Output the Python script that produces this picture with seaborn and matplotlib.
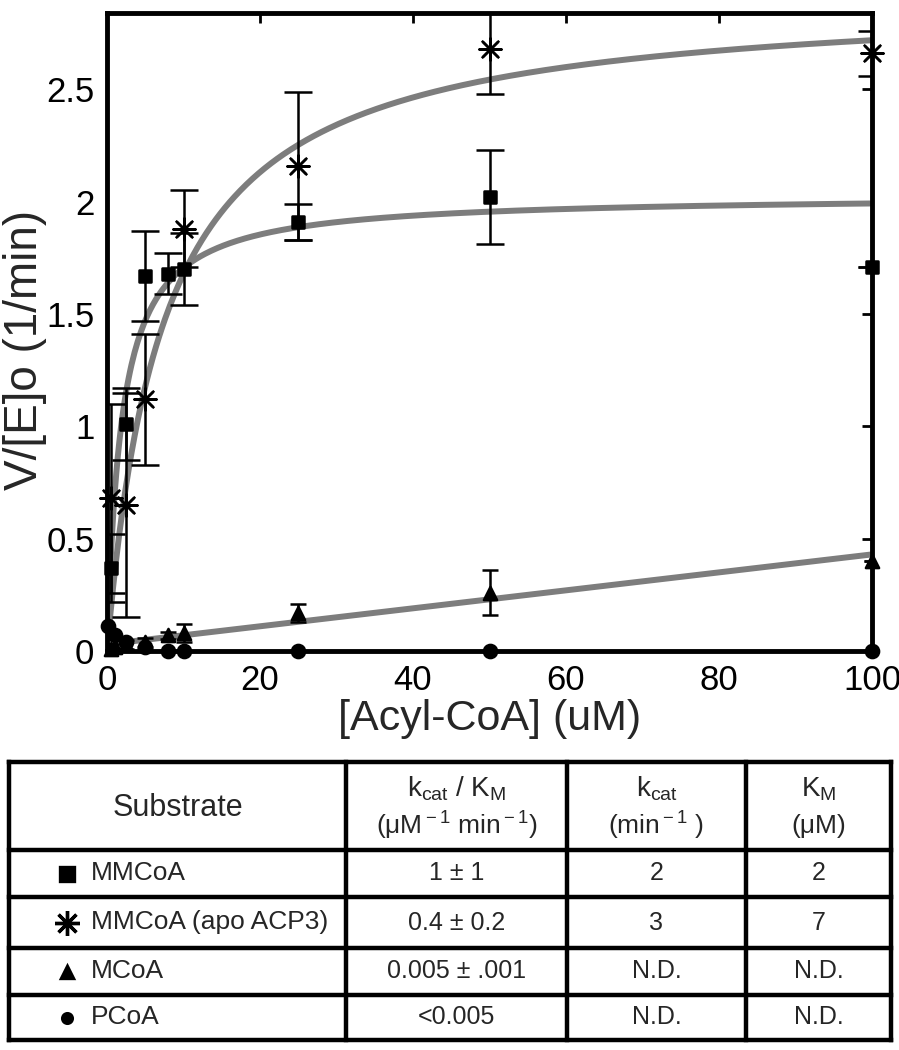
import numpy as np
import pandas as pd
import matplotlib
matplotlib.use("Agg")
import matplotlib.pyplot as plt
import seaborn as sns

# measured points (V/[E]o in 1/min vs substrate in uM)
mm_x = [0.5, 2.5, 5, 8, 10, 25, 50, 100]
mm_y = [0.37, 1.01, 1.67, 1.68, 1.70, 1.91, 2.02, 1.71]
mm_err = [0.15, 0.16, 0.20, 0.09, 0.16, 0.08, 0.21, 0.0]

apo_x = [0.5, 2.5, 5, 10, 25, 50, 100]
apo_y = [0.68, 0.65, 1.12, 1.88, 2.16, 2.68, 2.66]
apo_err = [0.42, 0.50, 0.29, 0.17, 0.33, 0.20, 0.10]

mcoa_x = [0.5, 1, 2.5, 5, 8, 10, 25, 50, 100]
mcoa_y = [0.01, 0.02, 0.03, 0.04, 0.07, 0.08, 0.17, 0.26, 0.40]
mcoa_err = [0.01, 0.01, 0.02, 0.02, 0.015, 0.04, 0.04, 0.10, 0.0]

pcoa_x = [0.1, 1, 2.5, 5, 8, 10, 25, 50, 100]
pcoa_y = [0.11, 0.07, 0.04, 0.02, 0.0, 0.0, 0.0, 0.0, 0.0]

# fit parameters for the gray curves
mm_vmax, mm_km = 2.03, 1.9
apo_vmax, apo_km = 2.92, 7.4
mcoa_slope, mcoa_icpt = 0.004, 0.03

x_ticks = [0, 20, 40, 60, 80, 100]
x_ticklabels = ["0", "20", "40", "60", "80", "100"]
y_ticks = [0, 0.5, 1, 1.5, 2, 2.5]
y_ticklabels = ["0", "0.5", "1", "1.5", "2", "2.5"]

# table contents
substrates = ["MMCoA", "MMCoA (apo ACP3)", "MCoA", "PCoA"]
table_markers = ["s", (8, 2, 0), "^", "o"]
kcat_km_vals = ["1 ± 1", "0.4 ± 0.2", "0.005 ± .001", "<0.005"]
kcat_vals = ["2", "3", "N.D.", "N.D."]
km_vals = ["2", "7", "N.D.", "N.D."]

sns.set_style("white")
plt.rcParams["font.family"] = ["Liberation Sans", "DejaVu Sans"]
plt.rcParams["mathtext.fontset"] = "custom"
plt.rcParams["mathtext.rm"] = "Liberation Sans"
plt.rcParams["mathtext.it"] = "Liberation Sans:italic"

W, H = 899, 1050
fig = plt.figure(figsize=(W / 100, H / 100), dpi=100)
ax = fig.add_axes([107 / W, 1 - 651 / H, 765 / W, 638 / H])

# fitted curves
xs = np.linspace(0, 100, 500)
xs_m = np.linspace(2, 100, 200)
curves = pd.concat([
    pd.DataFrame({"x": xs, "y": mm_vmax * xs / (mm_km + xs), "s": "mm"}),
    pd.DataFrame({"x": xs, "y": apo_vmax * xs / (apo_km + xs), "s": "apo"}),
    pd.DataFrame({"x": xs_m, "y": mcoa_icpt + mcoa_slope * xs_m, "s": "mcoa"}),
])
gray = "#7d7d7d"
sns.lineplot(data=curves, x="x", y="y", units="s", estimator=None, color=gray,
             lw=4.3, sort=False, ax=ax, zorder=2)

ebkw = dict(fmt="none", ecolor="black", elinewidth=1.8, capthick=1.8, zorder=3)
ax.errorbar(mm_x, mm_y, yerr=mm_err, capsize=10, **ebkw)
ax.errorbar(apo_x, apo_y, yerr=apo_err, capsize=10, **ebkw)
ax.errorbar(mcoa_x, mcoa_y, yerr=mcoa_err, capsize=6, **ebkw)

pts = pd.concat([
    pd.DataFrame({"x": mm_x, "y": mm_y, "s": "MMCoA"}),
    pd.DataFrame({"x": apo_x, "y": apo_y, "s": "apo"}),
    pd.DataFrame({"x": mcoa_x, "y": mcoa_y, "s": "MCoA"}),
    pd.DataFrame({"x": pcoa_x, "y": pcoa_y, "s": "PCoA"}),
])
marker_map = {"MMCoA": "s", "apo": (8, 2, 0), "MCoA": "^", "PCoA": "o"}
size_map = {"MMCoA": 70, "apo": 250, "MCoA": 90, "PCoA": 90}
for name, sub in pts.groupby("s", sort=False):
    sns.scatterplot(data=sub, x="x", y="y", marker=marker_map[name], s=size_map[name],
                    color="black", edgecolor="black", linewidth=1.8, ax=ax,
                    zorder=4, clip_on=False, legend=False)

ax.set_xlim(0, 100)
ax.set_ylim(0, 2.84)
ax.set_xticks(x_ticks)
ax.set_xticklabels(x_ticklabels)
ax.set_yticks(y_ticks)
ax.set_yticklabels(y_ticklabels)
ax.tick_params(direction="in", length=7, width=2, labelsize=25, top=True, right=True,
               colors="black", pad=9)
for sp in ax.spines.values():
    sp.set_linewidth(3.5)
    sp.set_color("black")
ax.set_xlabel("[Acyl-CoA] (uM)", fontsize=31, labelpad=2)
ax.set_ylabel("V/[E]o (1/min)", fontsize=33)
ax.yaxis.set_label_coords(-0.078, (651 - 350) / 638)

# table drawn in pixel coordinates
tax = fig.add_axes([0, 0, 1, 1], zorder=5)
tax.set_xlim(0, W)
tax.set_ylim(H, 0)
tax.axis("off")
cols = [9, 346, 567, 746, 891]
rows = [762, 850, 897, 948, 995, 1040]
for r in rows:
    tax.plot([cols[0], cols[-1]], [r, r], color="black", lw=3.2, solid_capstyle="projecting")
for c in cols:
    tax.plot([c, c], [rows[0], rows[-1]], color="black", lw=3.2, solid_capstyle="projecting")

cx = [(cols[i] + cols[i + 1]) / 2 for i in range(4)]
hy = (rows[0] + rows[1]) / 2
tax.text(cx[0], hy + 2, "Substrate", fontsize=22, ha="center", va="center")
tax.text(cx[1], hy - 17, r"k$_{\rm cat}$ / K$_{\rm M}$", fontsize=20, ha="center", va="center")
tax.text(cx[1], hy + 20, r"(μM$^{\rm -1}$ min$^{\rm -1}$)", fontsize=19, ha="center", va="center")
tax.text(cx[2], hy - 17, r"k$_{\rm cat}$", fontsize=20, ha="center", va="center")
tax.text(cx[2], hy + 20, r"(min$^{\rm -1}$ )", fontsize=19, ha="center", va="center")
tax.text(cx[3], hy - 17, r"K$_{\rm M}$", fontsize=20, ha="center", va="center")
tax.text(cx[3], hy + 20, "(μM)", fontsize=19, ha="center", va="center")

msizes = [10, 18, 9, 7]
for i, name in enumerate(substrates):
    ry = (rows[i + 1] + rows[i + 2]) / 2
    tax.plot(67, ry, marker=table_markers[i], color="black", ms=msizes[i], mew=2.4)
    tax.text(91, ry, name, fontsize=19, ha="left", va="center")
    tax.text(cx[1], ry, kcat_km_vals[i], fontsize=18, ha="center", va="center")
    tax.text(cx[2], ry, kcat_vals[i], fontsize=18, ha="center", va="center")
    tax.text(cx[3], ry, km_vals[i], fontsize=18, ha="center", va="center")

fig.savefig("out.png", dpi=100)
